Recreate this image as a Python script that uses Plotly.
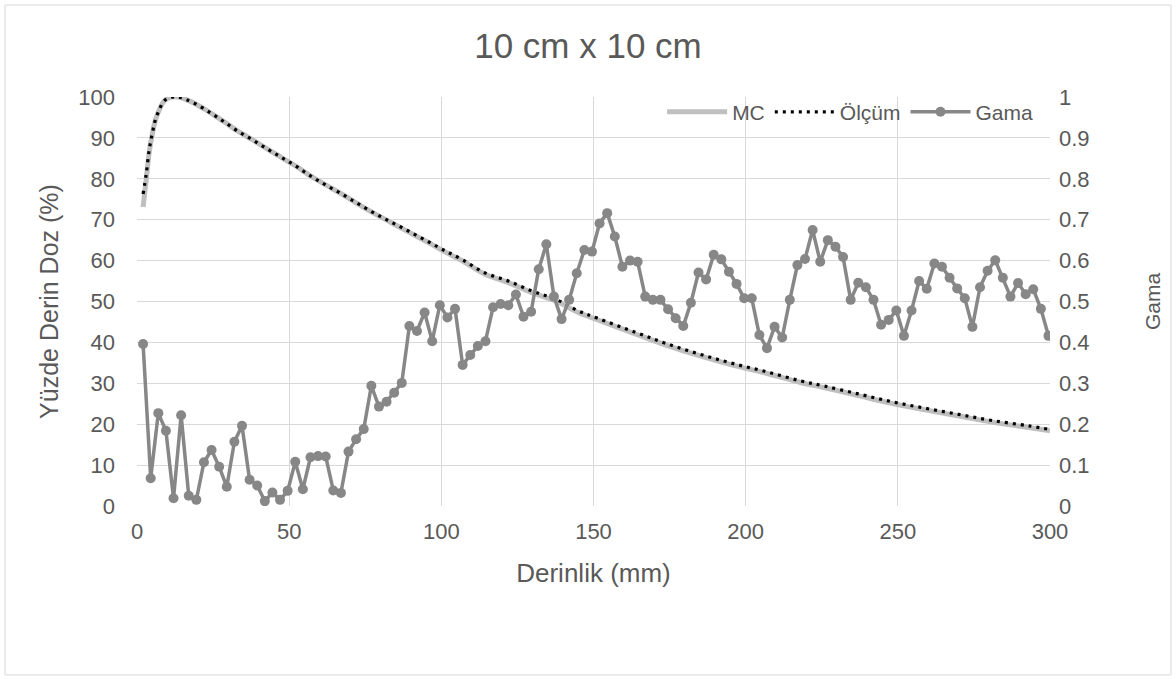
import plotly.graph_objects as go

# ---- PDD data (Yüzde Derin Doz, %) ----
depth_pdd = [2, 3, 4, 5, 6, 7.5, 9, 11, 13.5, 16, 19, 24, 28.5, 33, 38, 43, 47.5, 52,
             57, 62, 67, 72, 77, 82, 87, 92, 97, 101.5, 107, 114, 122, 130, 138, 145,
             151, 164, 174, 185, 196, 207, 218, 226, 237, 248, 259, 270, 281, 293, 300]
olcum = [76.3, 81.0, 87.0, 91.0, 94.3, 97.2, 99.1, 99.9, 100.0, 99.4, 98.4, 96.2, 94.0,
         91.7, 89.5, 87.2, 85.2, 83.2, 80.7, 78.5, 76.4, 74.2, 72.0, 70.0, 68.1, 66.1,
         64.1, 62.3, 60.2, 57.1, 55.0, 52.5, 50.4, 47.7, 46.0, 42.4, 39.7, 37.1, 34.8,
         32.8, 30.6, 29.3, 27.4, 25.5, 23.9, 22.4, 20.9, 19.6, 18.7]
mc = [73.1, 79.6, 86.4, 90.8, 94.2, 97.2, 99.1, 99.9, 100.0, 99.4, 98.4, 96.2, 94.0,
      91.7, 89.5, 87.2, 85.2, 83.2, 80.7, 78.5, 76.4, 74.1, 71.9, 69.9, 67.9, 65.9,
      63.9, 62.0, 59.9, 56.8, 54.6, 52.1, 50.0, 47.3, 45.6, 42.0, 39.3, 36.7, 34.4,
      32.4, 30.2, 28.9, 27.0, 25.1, 23.5, 22.0, 20.5, 19.2, 18.4]

# ---- Gamma data ----
depth_gama = [2.0, 4.5, 7.0, 9.5, 12.0, 14.5, 17.0, 19.5, 22.0, 24.5, 27.0, 29.5, 32.0,
              34.5, 37.0, 39.5, 42.0, 44.5, 47.0, 49.5, 52.0, 54.5, 57.0, 59.5, 62.0,
              64.5, 67.0, 69.5, 72.0, 74.5, 77.0, 79.5, 82.0, 84.5, 87.0, 89.5, 92.0,
              94.5, 97.0, 99.5, 102.0, 104.5, 107.0, 109.5, 112.0, 114.5, 117.0, 119.5,
              122.0, 124.5, 127.0, 129.5, 132.0, 134.5, 137.0, 139.5, 142.0, 144.5,
              147.0, 149.5, 152.0, 154.5, 157.0, 159.5, 162.0, 164.5, 167.0, 169.5,
              172.0, 174.5, 177.0, 179.5, 182.0, 184.5, 187.0, 189.5, 192.0, 194.5,
              197.0, 199.5, 202.0, 204.5, 207.0, 209.5, 212.0, 214.5, 217.0, 219.5,
              222.0, 224.5, 227.0, 229.5, 232.0, 234.5, 237.0, 239.5, 242.0, 244.5,
              247.0, 249.5, 252.0, 254.5, 257.0, 259.5, 262.0, 264.5, 267.0, 269.5,
              272.0, 274.5, 277.0, 279.5, 282.0, 284.5, 287.0, 289.5, 292.0, 294.5,
              297.0, 299.5]
gama = [0.396, 0.068, 0.227, 0.184, 0.019, 0.222, 0.025, 0.015, 0.107, 0.137, 0.096,
        0.047, 0.157, 0.196, 0.064, 0.050, 0.012, 0.033, 0.015, 0.037, 0.108, 0.041,
        0.119, 0.122, 0.121, 0.038, 0.032, 0.133, 0.163, 0.188, 0.294, 0.243, 0.255,
        0.277, 0.301, 0.440, 0.428, 0.473, 0.403, 0.491, 0.461, 0.482, 0.345, 0.369,
        0.391, 0.403, 0.486, 0.494, 0.491, 0.517, 0.463, 0.475, 0.579, 0.640, 0.512,
        0.457, 0.504, 0.569, 0.626, 0.622, 0.691, 0.716, 0.659, 0.585, 0.600, 0.597,
        0.512, 0.504, 0.504, 0.481, 0.459, 0.440, 0.497, 0.571, 0.554, 0.614, 0.603,
        0.573, 0.543, 0.508, 0.508, 0.418, 0.386, 0.438, 0.412, 0.504, 0.589, 0.604,
        0.675, 0.597, 0.650, 0.634, 0.609, 0.504, 0.546, 0.535, 0.504, 0.443, 0.455,
        0.478, 0.416, 0.478, 0.550, 0.531, 0.593, 0.585, 0.558, 0.532, 0.508, 0.438,
        0.535, 0.575, 0.601, 0.558, 0.512, 0.545, 0.518, 0.530, 0.482, 0.416]

x_ticks = [0, 50, 100, 150, 200, 250, 300]

FONT = "Liberation Sans, Arial, sans-serif"
TXT = "#595959"
GRID = "#D9D9D9"

fig = go.Figure()
fig.add_trace(go.Scatter(x=depth_pdd, y=mc, name="MC", mode="lines",
                         line=dict(color="#BFBFBF", width=5, shape="spline")))
fig.add_trace(go.Scatter(x=depth_pdd, y=olcum, name="Ölçüm", mode="lines",
                         line=dict(color="#000000", width=3.2, dash="3px,5px", shape="spline")))
fig.add_trace(go.Scatter(x=depth_gama, y=gama, name="Gama", mode="lines+markers",
                         yaxis="y2",
                         line=dict(color="#878787", width=3.5),
                         marker=dict(color="#878787", size=10)))

fig.update_layout(
    width=1176, height=679,
    margin=dict(l=137, r=126, t=97, b=173),
    paper_bgcolor="white", plot_bgcolor="white",
    font=dict(family=FONT, color=TXT, size=21),
    title=dict(text="10 cm x 10 cm", x=0.5, xanchor="center", y=0.933, yanchor="middle",
               font=dict(size=35, color=TXT, family=FONT)),
    xaxis=dict(range=[0, 300], tickvals=x_ticks, showgrid=True, gridcolor=GRID,
               gridwidth=1.3, zeroline=False, showline=False, ticks="",
               ticklabelstandoff=10,
               title=dict(text="Derinlik (mm)", font=dict(size=26, color=TXT), standoff=20),
               tickfont=dict(size=22, color=TXT)),
    yaxis=dict(range=[0, 100], dtick=10, showgrid=True, gridcolor=GRID, gridwidth=1.3,
               zeroline=False, showline=False, ticks="", ticklabelstandoff=21,
               title=dict(text="Yüzde Derin Doz (%)", font=dict(size=25, color=TXT), standoff=12),
               tickfont=dict(size=22, color=TXT)),
    yaxis2=dict(range=[0, 1], dtick=0.1, overlaying="y", side="right", showgrid=False,
                zeroline=False, showline=False, ticks="", ticklabelstandoff=8,
                title=dict(text="Gama", font=dict(size=21, color=TXT), standoff=56),
                tickfont=dict(size=22, color=TXT)),
    legend=dict(orientation="h", x=0.987, xanchor="right", y=1.013, yanchor="top",
                bgcolor="rgba(255,255,255,0)", font=dict(size=21, color=TXT),
                traceorder="normal", itemwidth=60),
    showlegend=True,
)

# outer chart border
fig.add_shape(type="rect", xref="paper", yref="paper",
              x0=-0.1446, x1=1.1325, y0=-0.413, y1=1.2249,
              line=dict(color="#D9D9D9", width=1), fillcolor="rgba(0,0,0,0)", layer="below")

fig.write_html("out.html")
